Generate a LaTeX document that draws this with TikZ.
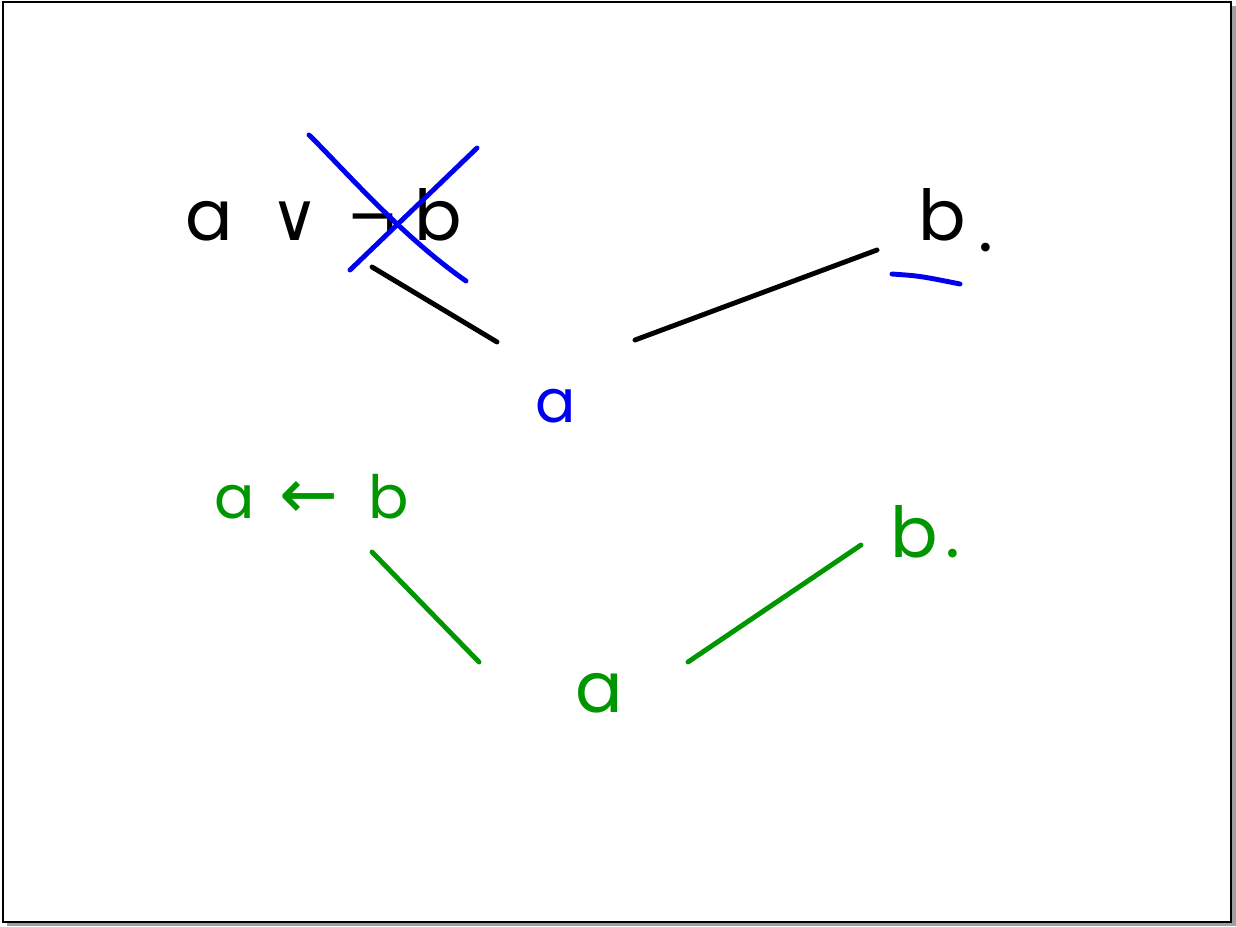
\documentclass[tikz,border=0pt]{standalone}
\usepackage{fontspec}
\setmainfont{Poppins}
\newfontfamily\symff{DejaVu Sans}
\usepackage{tikz}
\usetikzlibrary{positioning,calc}
\definecolor{InkBlue}{HTML}{0000F0}
\definecolor{InkGreen}{HTML}{009600}

\begin{document}
\begin{tikzpicture}[
  x=0.02cm, y=-0.02cm,
  every node/.style={inner sep=0pt,anchor=base west},
  ink/.style={line width=2.8pt,line cap=round,line join=round},
  big/.style={font=\fontsize{40}{48}\selectfont},
  small/.style={font=\fontsize{34}{40}\selectfont}
]
\useasboundingbox (0,0) rectangle (1236,926);

% frame with its shadow
\fill[gray!75] (1232,6) rectangle (1236,926);
\fill[gray!75] (7,923) rectangle (1236,926);
\draw[line width=1.1pt] (3,2) rectangle (1231,922);

% first resolution step
\node[big] (c1) at (185,240) {a\hspace{0.75cm}{\symff\fontsize{38}{40}\selectfont ∨}\hspace{0.55cm}{\symff\fontsize{36}{40}\selectfont ¬}\hspace{0.3cm}b};
\node[big] (c2) at (918,240) {b\hspace{0.25cm}\raisebox{-0.22cm}{.}};
\node[small,text=InkBlue] (r1) at (535,422) {a};

\draw[ink] ([shift={(187,27)}]c1.base west) -- ([shift={(-38,-80)}]r1.base west);
\draw[ink] ([shift={(-41,10)}]c2.base west) -- ([shift={(100,-82)}]r1.base west);

% struck literal and matched literal
\draw[ink,InkBlue] (309,135) .. controls (340,165) and (400,235) .. (466,281);
\draw[ink,InkBlue] (350,270) -- (477,148);
\draw[ink,InkBlue] (892,274) .. controls (920,276) .. (960,284);

% second resolution step
\node[small,text=InkGreen] (g1) at (214,518) {a\hspace{0.5cm}{\symff\fontsize{40}{44}\selectfont ←}\hspace{0.6cm}b};
\node[big,text=InkGreen] (g2) at (890,557) {b\hspace{0.15cm}.};
\node[big,text=InkGreen] (r2) at (575,712) {a};

\draw[ink,InkGreen] ([shift={(158,34)}]g1.base west) -- ([shift={(-96,-50)}]r2.base west);
\draw[ink,InkGreen] ([shift={(-29,-12)}]g2.base west) -- ([shift={(113,-50)}]r2.base west);
\end{tikzpicture}
\end{document}
